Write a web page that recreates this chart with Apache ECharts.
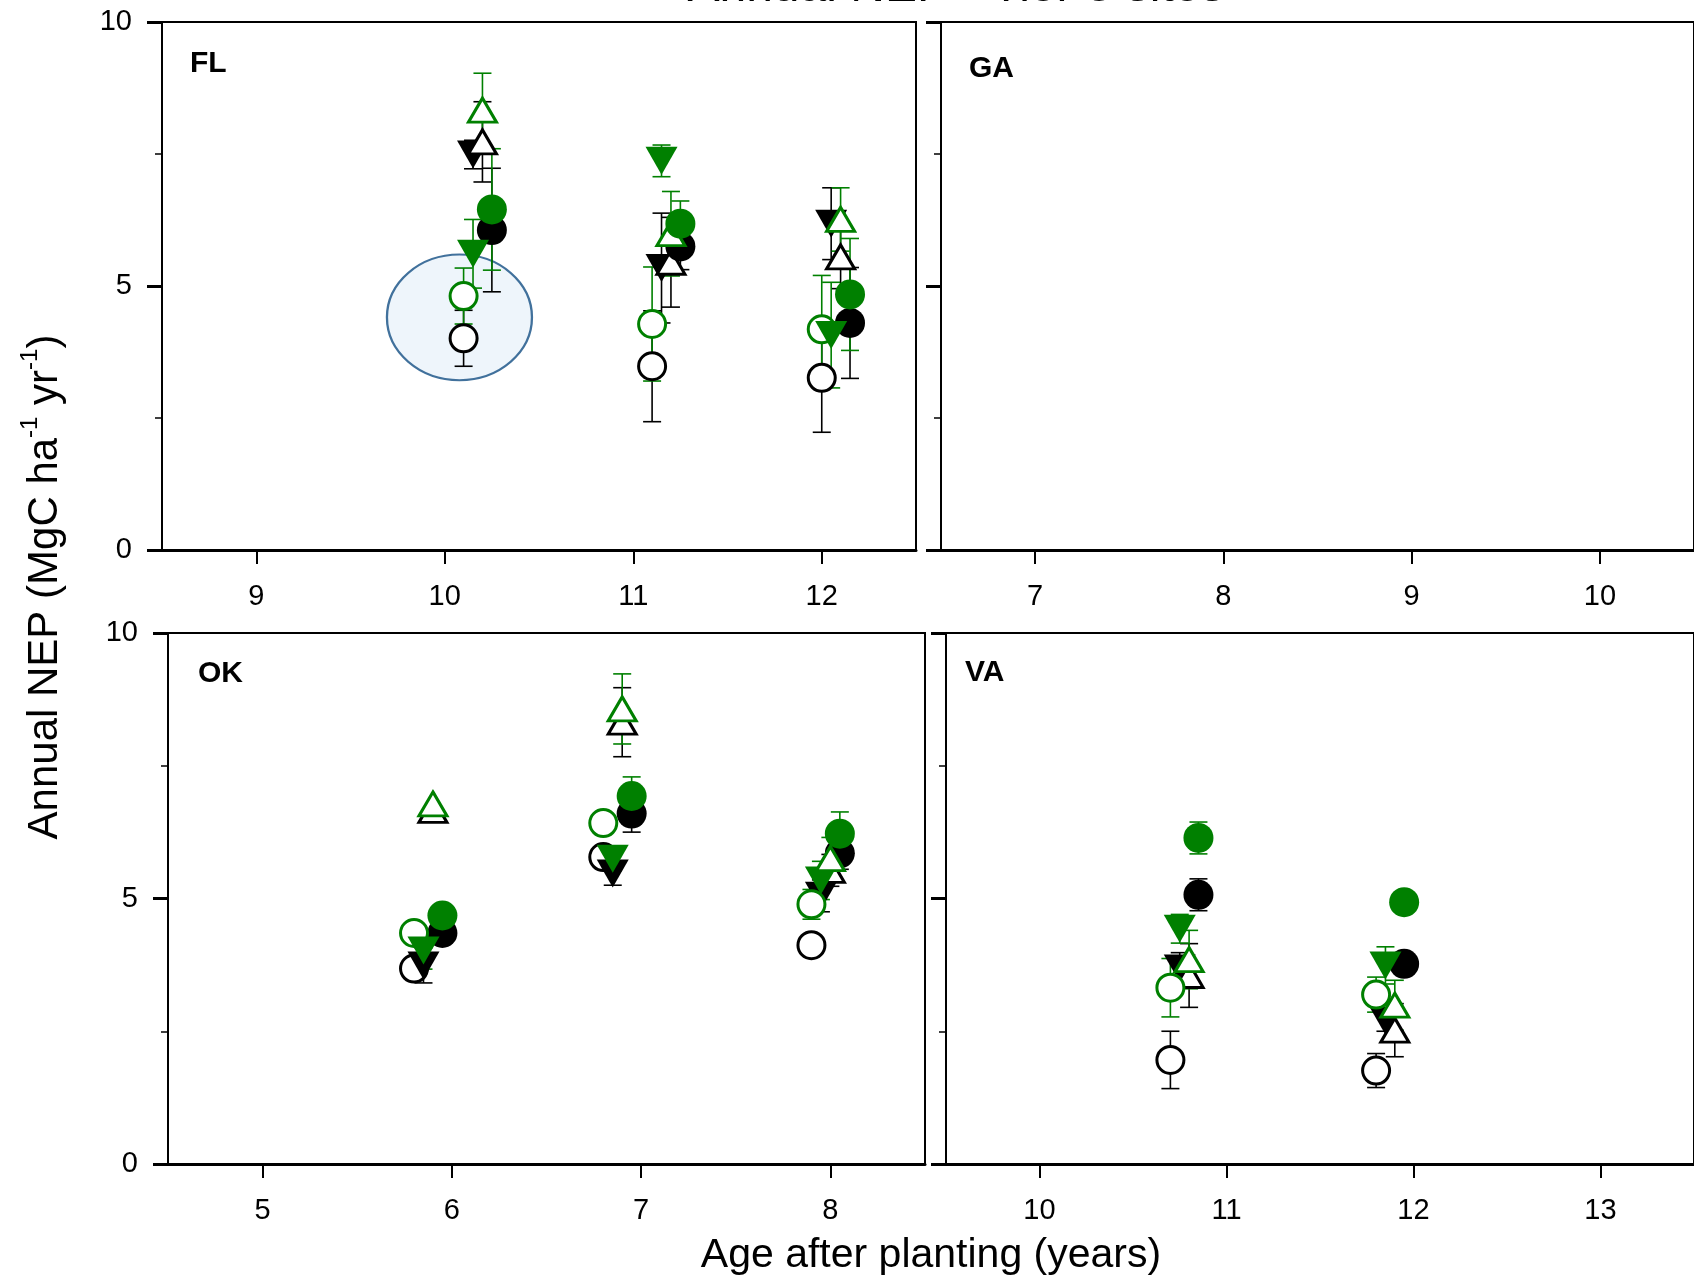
<!DOCTYPE html>
<html>
<head>
<meta charset="utf-8">
<script src="https://cdn.jsdelivr.net/npm/echarts@6/dist/echarts.min.js"></script>
<style>
  html, body { margin: 0; padding: 0; background: #fff; }
  #main { width: 1694px; height: 1277px; }
</style>
</head>
<body>
<div id="main"></div>
<script>
// values: [age, NEP, error]
// FL
var flBlackOpen = [[10.1, 4.01, 0.53], [11.1, 3.48, 1.05], [12.0, 3.26, 1.03]];
var flBlackDown = [[10.15, 7.49, 0.27], [11.15, 5.34, 1.04], [12.05, 6.18, 0.68]];
var flBlackUp = [[10.2, 7.73, 0.76], [11.2, 5.45, 0.85], [12.1, 5.55, 0.6]];
var flBlackFill = [[10.25, 6.06, 1.17], [11.25, 5.75, 0.44], [12.15, 4.30, 1.05]];
var flGreenOpen = [[10.1, 4.81, 0.53], [11.1, 4.28, 1.08], [12.0, 4.18, 1.02]];
var flGreenDown = [[10.15, 5.61, 0.65], [11.15, 7.37, 0.3], [12.05, 4.07, 1.0]];
var flGreenUp = [[10.2, 8.33, 0.7], [11.2, 5.99, 0.8], [12.1, 6.26, 0.6]];
var flGreenFill = [[10.25, 6.45, 1.15], [11.25, 6.18, 0.43], [12.15, 4.84, 1.06]];
// GA (no data)
var gaEmpty = [];
// OK
var okBlackOpen = [[5.8, 3.68, 0], [6.8, 5.78, 0], [7.9, 4.12, 0]];
var okBlackDown = [[5.85, 3.74, 0.33], [6.85, 5.47, 0.22], [7.95, 5.05, 0.3]];
var okBlackUp = [[5.9, 6.66, 0], [6.9, 8.32, 0.65], [8.0, 5.53, 0.3]];
var okBlackFill = [[5.95, 4.35, 0.1], [6.95, 6.60, 0.35], [8.05, 5.85, 0.3]];
var okGreenOpen = [[5.8, 4.35, 0.1], [6.8, 6.42, 0], [7.9, 4.89, 0.28]];
var okGreenDown = [[5.85, 4.02, 0.35], [6.85, 5.75, 0.23], [7.95, 5.34, 0.36]];
var okGreenUp = [[5.9, 6.78, 0], [6.9, 8.57, 0.66], [8.0, 5.75, 0.4]];
var okGreenFill = [[5.95, 4.68, 0], [6.95, 6.93, 0.36], [8.05, 6.22, 0.41]];
// VA
var vaBlackOpen = [[10.7, 1.96, 0.54], [11.8, 1.76, 0.32]];
var vaBlackDown = [[10.75, 3.68, 0.3], [11.85, 2.70, 0.2]];
var vaBlackUp = [[10.8, 3.55, 0.6], [11.9, 2.52, 0.5]];
var vaBlackFill = [[10.85, 5.07, 0.3], [11.95, 3.77, 0]];
var vaGreenOpen = [[10.7, 3.32, 0.55], [11.8, 3.19, 0.33]];
var vaGreenDown = [[10.75, 4.43, 0.27], [11.85, 3.74, 0.35]];
var vaGreenUp = [[10.8, 3.85, 0.55], [11.9, 2.99, 0.47]];
var vaGreenFill = [[10.85, 6.14, 0.3], [11.95, 4.93, 0]];

// tick labels
var flTicks = [9, 10, 11, 12];
var gaTicks = [7, 8, 9, 10];
var okTicks = [5, 6, 7, 8];
var vaTicks = [10, 11, 12, 13];

// highlighted area in FL (data units)
var flHighlight = { x: 10.078, y: 4.406 };

var FONT = '"Liberation Sans", Arial, Helvetica, sans-serif';
var BLACK = '#000000';
var GREEN = '#008000';

var markers = [
  { color: BLACK, symbol: 'circle', open: true, rot: 0, size: 27 },
  { color: BLACK, symbol: 'triangle', open: false, rot: 180, size: [32, 28] },
  { color: BLACK, symbol: 'triangle', open: true, rot: 0, size: [28, 24] },
  { color: BLACK, symbol: 'circle', open: false, rot: 0, size: 30 },
  { color: GREEN, symbol: 'circle', open: true, rot: 0, size: 27 },
  { color: GREEN, symbol: 'triangle', open: false, rot: 180, size: [32, 28] },
  { color: GREEN, symbol: 'triangle', open: true, rot: 0, size: [28, 24] },
  { color: GREEN, symbol: 'circle', open: false, rot: 0, size: 30 }
];

var panels = [
  { name: 'FL', min: 8.5, max: 12.5, ticks: flTicks, yLabels: true, label: [190, 64],
    grid: { left: 162, top: 22, width: 754, height: 528 },
    data: [flBlackOpen, flBlackDown, flBlackUp, flBlackFill, flGreenOpen, flGreenDown, flGreenUp, flGreenFill] },
  { name: 'GA', min: 6.5, max: 10.5, ticks: gaTicks, yLabels: false, label: [969, 69],
    grid: { left: 941, top: 22, width: 754, height: 528 },
    data: [gaEmpty, gaEmpty, gaEmpty, gaEmpty, gaEmpty, gaEmpty, gaEmpty, gaEmpty] },
  { name: 'OK', min: 4.5, max: 8.5, ticks: okTicks, yLabels: true, label: [198, 674],
    grid: { left: 168, top: 633, width: 757, height: 531 },
    data: [okBlackOpen, okBlackDown, okBlackUp, okBlackFill, okGreenOpen, okGreenDown, okGreenUp, okGreenFill] },
  { name: 'VA', min: 9.5, max: 13.5, ticks: vaTicks, yLabels: false, label: [965, 673],
    grid: { left: 946, top: 633, width: 757, height: 531 },
    data: [vaBlackOpen, vaBlackDown, vaBlackUp, vaBlackFill, vaGreenOpen, vaGreenDown, vaGreenUp, vaGreenFill] }
];

function errRenderer(color) {
  return function (params, api) {
    var x = api.value(0), y = api.value(1), e = api.value(2);
    if (!e) return;
    var top = api.coord([x, y + e]);
    var bot = api.coord([x, y - e]);
    var hw = 9;
    var st = { stroke: color, lineWidth: 1.6 };
    return {
      type: 'group',
      children: [
        { type: 'line', shape: { x1: top[0], y1: top[1], x2: bot[0], y2: bot[1] }, style: st },
        { type: 'line', shape: { x1: top[0] - hw, y1: top[1], x2: top[0] + hw, y2: top[1] }, style: st },
        { type: 'line', shape: { x1: bot[0] - hw, y1: bot[1], x2: bot[0] + hw, y2: bot[1] }, style: st }
      ]
    };
  };
}

var grids = [], xAxes = [], yAxes = [], series = [], texts = [];

panels.forEach(function (p, i) {
  grids.push(Object.assign({ show: true, borderColor: BLACK, borderWidth: 2, backgroundColor: 'transparent' }, p.grid));
  xAxes.push({
    type: 'value', gridIndex: i, min: p.min, max: p.max,
    axisLine: { show: true, onZero: false, lineStyle: { color: BLACK, width: 3 } },
    axisTick: { show: true, customValues: p.ticks, length: 14, lineStyle: { color: BLACK, width: 2 } },
    axisLabel: { show: true, customValues: p.ticks, color: BLACK, fontSize: 29, fontFamily: FONT, margin: 32 },
    splitLine: { show: false }
  });
  yAxes.push({
    type: 'value', gridIndex: i, min: 0, max: 10, interval: 5,
    axisLine: { show: true, onZero: false, lineStyle: { color: BLACK, width: 2 } },
    axisTick: { show: true, length: 15, lineStyle: { color: BLACK, width: 3 } },
    minorTick: { show: true, splitNumber: 2, length: 7, lineStyle: { color: BLACK, width: 1.5 } },
    axisLabel: { show: p.yLabels, color: BLACK, fontSize: 29, fontFamily: FONT, margin: 30 },
    splitLine: { show: false },
    minorSplitLine: { show: false }
  });
  markers.forEach(function (m, k) {
    var d = p.data[k];
    series.push({
      type: 'custom', xAxisIndex: i, yAxisIndex: i,
      renderItem: errRenderer(m.color),
      encode: { x: 0, y: 1 },
      data: d, silent: true
    });
    series.push({
      type: 'scatter', xAxisIndex: i, yAxisIndex: i,
      symbol: m.symbol, symbolRotate: m.rot, symbolSize: m.size,
      encode: { x: 0, y: 1 },
      itemStyle: m.open
        ? { color: '#ffffff', borderColor: m.color, borderWidth: 3, opacity: 1 }
        : { color: m.color, borderWidth: 0, opacity: 1 },
      data: d, silent: true
    });
  });
  texts.push({
    type: 'text', id: 'lab' + p.name, x: p.label[0], y: p.label[1],
    style: { text: p.name, fill: BLACK, font: 'bold 30px ' + FONT, align: 'left', verticalAlign: 'middle' }
  });
});

texts.push({
  type: 'text', id: 'title', x: 956, y: -12,
  style: { text: 'Annual NEP - Tier 3 sites', fill: BLACK, font: '48px ' + FONT, align: 'center', verticalAlign: 'middle' }
});
texts.push({
  type: 'text', id: 'xname', x: 931, y: 1256,
  style: { text: 'Age after planting (years)', fill: BLACK, font: '41px ' + FONT, align: 'center', verticalAlign: 'middle' }
});
texts.push({
  type: 'text', id: 'yname', x: 42, y: 587, rotation: Math.PI / 2,
  style: {
    text: '{n|Annual NEP (MgC ha}{s|-1}{n| yr}{s|-1}{n|)}',
    align: 'center', verticalAlign: 'middle', fill: BLACK,
    rich: {
      n: { fontSize: 42, fontFamily: FONT, color: BLACK, lineHeight: 48, verticalAlign: 'bottom' },
      s: { fontSize: 24, fontFamily: FONT, color: BLACK, lineHeight: 48, verticalAlign: 'top' }
    }
  }
});

var option = {
  animation: false,
  backgroundColor: '#ffffff',
  grid: grids,
  xAxis: xAxes,
  yAxis: yAxes,
  series: series,
  graphic: { elements: texts }
};

var myChart = echarts.init(document.getElementById('main'), null, { renderer: 'canvas' });
myChart.setOption(option);

// highlight ellipse in FL, placed through the axis scale
var c = myChart.convertToPixel({ gridIndex: 0 }, [flHighlight.x, flHighlight.y]);
myChart.setOption({
  graphic: {
    elements: [{
      type: 'circle', id: 'flEllipse', x: c[0], y: c[1], scaleY: 0.866, z: 1,
      shape: { cx: 0, cy: 0, r: 72.5 },
      style: { fill: '#eef5fb', stroke: '#41719c', lineWidth: 2.3 },
      silent: true
    }]
  }
});
</script>
</body>
</html>
